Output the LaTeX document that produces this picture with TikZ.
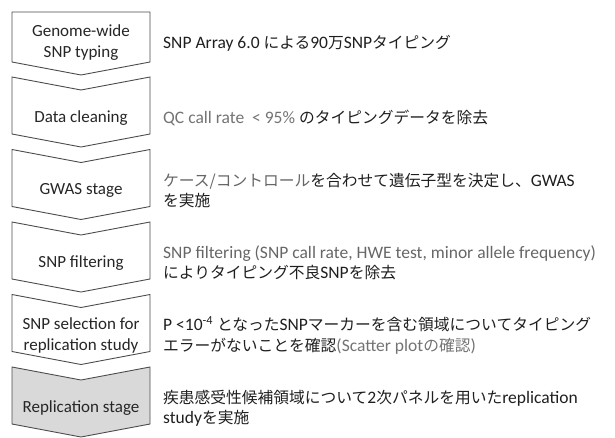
\documentclass[tikz,border=0pt]{standalone}
\usepackage{fontspec}
\setmainfont{Carlito}
\newfontfamily\jp[Scale=0.9]{Noto Sans CJK JP}
\newcommand\J[1]{{\jp #1}}
\begin{document}
\begin{tikzpicture}[x=1pt,y=-1pt,
  chev/.style={draw=black!70, line width=0.9pt, fill=white, line join=miter},
  chevgray/.style={chev, fill=black!15},
  lbl/.style={font=\fontsize{17}{21}\selectfont, align=center, text=black!85},
  desc/.style={anchor=west, font=\fontsize{17.5}{20.5}\selectfont, align=left, text=black!88, inner sep=0pt}]
\useasboundingbox (0,0) rectangle (615,437);
% shapes
\draw[chev] (12,12) -- (150,12) -- (150,62) -- (81,75) -- (12,62) -- cycle;
\foreach \T/\s in {77/chev,149.5/chev,222/chev,294.5/chev,367/chevgray}{
  \draw[\s] (12,\T) -- (81,\T+13) -- (150,\T) -- (150,\T+57) -- (81,\T+70) -- (12,\T+57) -- cycle;
}
% labels
\node[lbl] (s1) at (81,43) {Genome-wide\\SNP typing};
\node[lbl] (s2) at (81,118) {Data cleaning};
\node[lbl] (s3) at (81,190.5) {GWAS stage};
\node[lbl] (s4) at (81,263) {SNP filtering};
\node[lbl] (s5) at (81,335.5) {SNP selection for\\replication study};
\node[lbl] (s6) at (81,408) {Replication stage};
% descriptions
\node[desc] (d1) at (163,43) {SNP Array 6.0 \J{による}90\J{万}SNP\J{タイピング}};
\node[desc] (d2) at (163,118) {{\color{black!55}QC call rate\ \ < 95\%} \J{のタイピングデータを除去}};
\node[desc] (d3) at (163,190.5) {\J{{\color{black!60}ケース/コントロール}を合わせて遺伝子型を決定し、}GWAS\\\J{を実施}};
\node[desc] (d4) at (163,263) {{\color{black!60}SNP filtering (SNP call rate, HWE test, minor allele frequency)}\\\J{によりタイピング不良}SNP\J{を除去}};
\node[desc] (d5) at (163,335.5) {P <10\textsuperscript{-4} \J{となった}SNP\J{マーカーを含む領域についてタイピング}\\\J{エラーがないことを確認}{\color{black!55}(Scatter plot\J{の確認})}};
\node[desc] (d6) at (163,408) {\J{疾患感受性候補領域について}2\J{次パネルを用いた}replication\\study\J{を実施}};
\end{tikzpicture}
\end{document}
